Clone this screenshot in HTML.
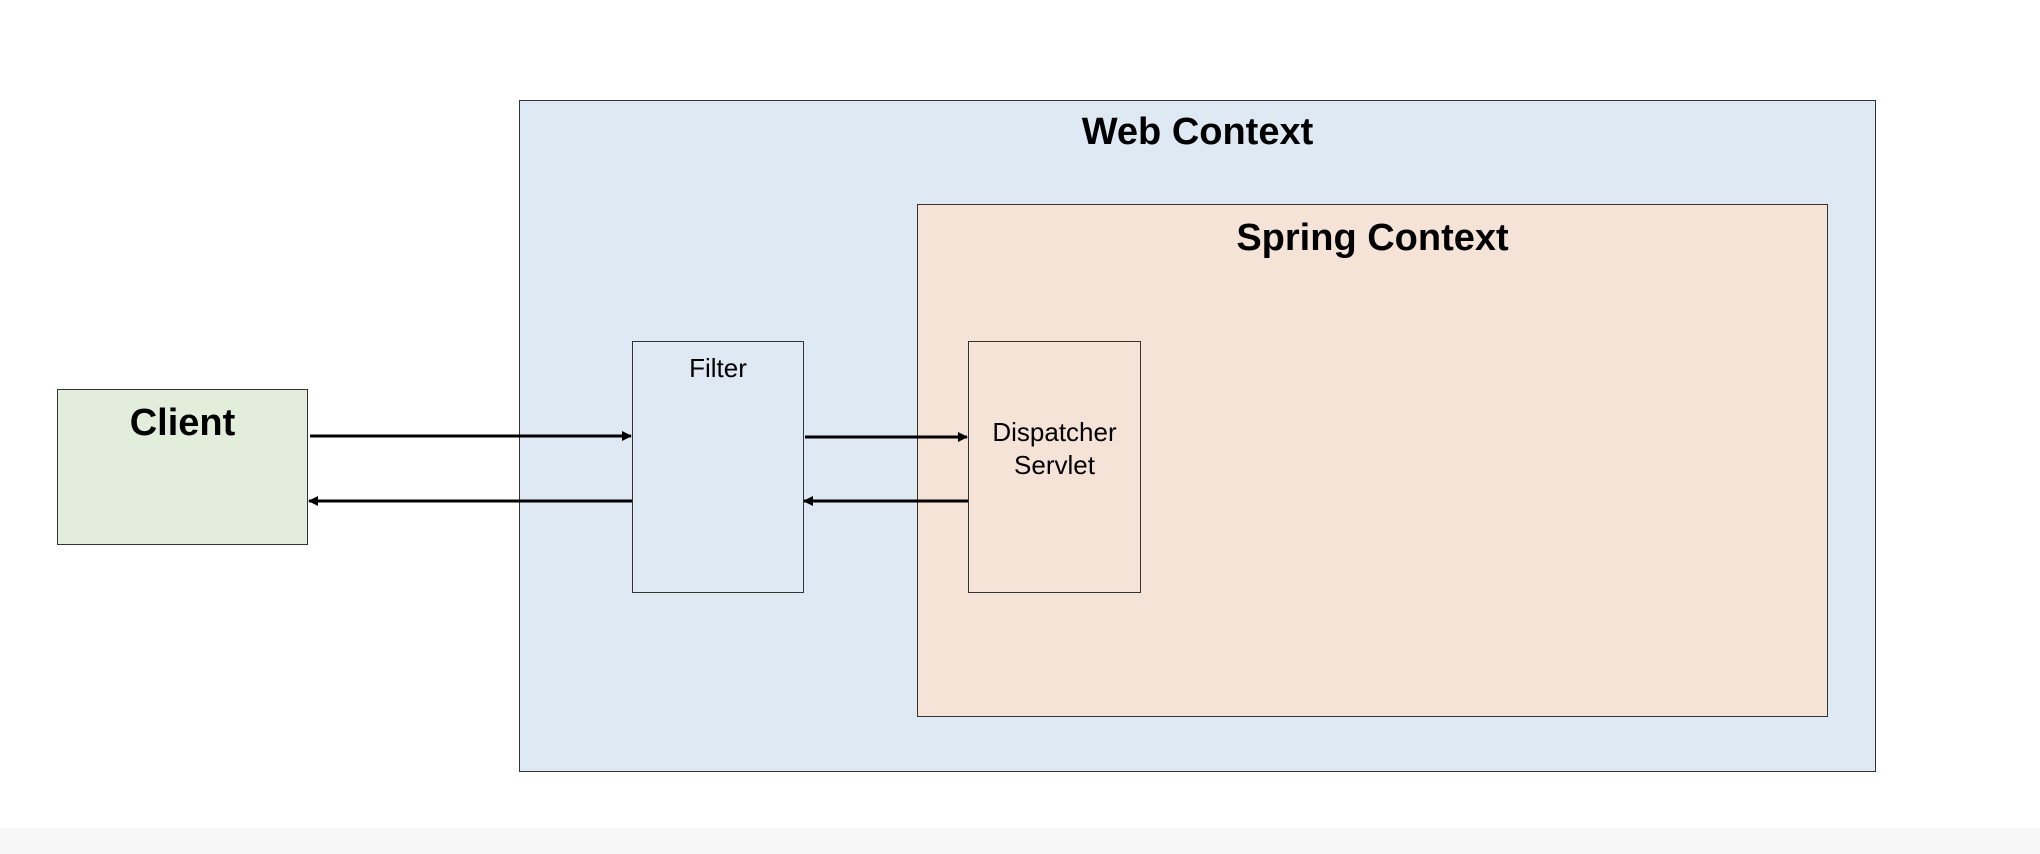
<!DOCTYPE html>
<html><head><style>
body{margin:0;width:2040px;height:854px;background:#fff;position:relative;overflow:hidden;font-family:"Liberation Sans","Noto Sans CJK KR",sans-serif}
.b{position:absolute;border:1.5px solid #333;box-sizing:border-box}
.t{position:absolute;left:0;right:0;text-align:center;color:#000}
</style></head><body>
<div style="position:absolute;left:0;top:828px;width:2040px;height:26px;background:#f6f6f6"></div>
<div class="b" style="left:519px;top:100px;width:1357px;height:672px;background:#dfe9f4">
 <div class="t" style="top:10px;font-size:38px;font-weight:bold">Web Context</div>
</div>
<div class="b" style="left:917px;top:204px;width:911px;height:513px;background:#f6e3d8">
 <div class="t" style="top:12px;font-size:38px;font-weight:bold">Spring Context</div>
</div>
<div class="b" style="left:57px;top:389px;width:251px;height:156px;background:#e2eddb">
 <div class="t" style="top:12px;font-size:38px;font-weight:bold">Client</div>
</div>
<div class="b" style="left:632px;top:341px;width:172px;height:252px;background:#dfe9f4">
 <div class="t" style="top:11px;font-size:26px">Filter</div>
</div>
<div class="b" style="left:968px;top:341px;width:173px;height:252px;background:#f6e3d8">
 <div class="t" style="top:74px;font-size:26px;line-height:33px">Dispatcher<br>Servlet</div>
</div>
<svg style="position:absolute;left:0;top:0" width="2040" height="854">
<defs><marker id="a" markerWidth="10" markerHeight="10" refX="9" refY="5" orient="auto" markerUnits="userSpaceOnUse"><path d="M0,0 L10,5 L0,10 z" fill="#000"/></marker></defs>
<g stroke="#000" stroke-width="3">
<line x1="310" y1="436" x2="631" y2="436" marker-end="url(#a)"/>
<line x1="632" y1="501" x2="309" y2="501" marker-end="url(#a)"/>
<line x1="805" y1="437" x2="967" y2="437" marker-end="url(#a)"/>
<line x1="968" y1="501" x2="804" y2="501" marker-end="url(#a)"/>
</g></svg>
</body></html>
